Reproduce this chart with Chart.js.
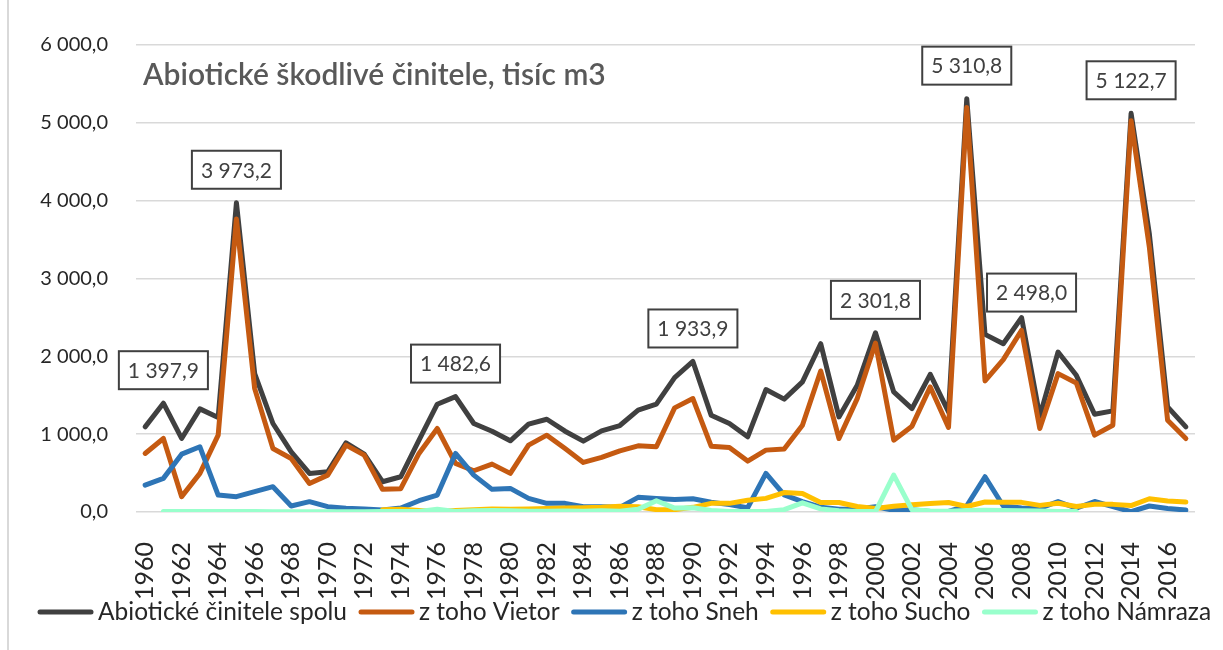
<!DOCTYPE html>
<html>
<head>
<meta charset="utf-8">
<script src="https://cdn.jsdelivr.net/npm/chart.js@4.4.1/dist/chart.umd.min.js"></script>
<style>
  html, body { margin: 0; padding: 0; background: #ffffff; }
  #wrap { width: 1223px; height: 650px; position: relative; }
</style>
</head>
<body>
<div id="wrap"><canvas id="c" width="1223" height="650"></canvas></div>
<script>
// ---- data ----
const years = [];
for (let y = 1960; y <= 2017; y++) years.push(String(y));

const seriesNames = ['Abiotické činitele spolu', 'z toho Vietor', 'z toho Sneh', 'z toho Sucho', 'z toho Námraza'];

const spolu = [1094, 1397.9, 945, 1325, 1214, 3973.2, 1778, 1137, 773, 496,
  517, 889, 743, 389, 453, 923, 1385, 1482.6, 1137, 1038,
  915, 1128, 1192, 1038, 910, 1043, 1111, 1308, 1385, 1726,
  1933.9, 1244, 1137, 966, 1573, 1450, 1671, 2162, 1222, 1628,
  2301.8, 1543, 1329, 1769, 1286, 5310.8, 2282, 2162, 2498.0, 1231,
  2055, 1756, 1256, 1299, 5122.7, 3573, 1350, 1094];

const vietor = [752, 945, 197, 496, 987, 3765, 1585, 816, 688, 367,
  474, 859, 731, 291, 300, 752, 1073, 624, 530, 615,
  496, 859, 987, 816, 637, 701, 786, 850, 838, 1338,
  1457, 846, 829, 654, 795, 810, 1115, 1812, 944, 1457,
  2171, 923, 1103, 1607, 1086, 5197, 1684, 1957, 2333, 1073,
  1778, 1658, 987, 1115, 5026, 3402, 1179, 944];

const sneh = [346, 432, 743, 838, 218, 197, 261, 325, 77, 133,
  68, 47, 40, 25, 50, 145, 218, 752, 474, 291,
  303, 175, 111, 111, 68, 68, 60, 188, 175, 160,
  170, 125, 95, 55, 496, 220, 133, 62, 36, 38,
  68, 22, 28, 8, 8, 80, 453, 77, 52, 47,
  135, 48, 135, 68, 5, 77, 45, 25];

const sucho = [null, null, null, null, null, null, null, null, null, null,
  null, null, null, 30, 35, 20, 5, 20, 30, 40,
  35, 40, 45, 50, 55, 60, 75, 68, 30, 30,
  60, 111, 111, 150, 175, 250, 238, 122, 122, 70,
  45, 75, 92, 108, 122, 70, 128, 126, 124, 85,
  112, 70, 100, 98, 82, 170, 140, 128];

const namraza = [null, 5, 5, 5, 5, 5, 5, 4, 4, 4,
  4, 4, 4, 5, 6, 8, 34, 8, 15, 20,
  15, 10, 10, 12, 10, 15, 10, 35, 145, 50,
  55, 20, 8, 5, 5, 30, 118, 40, 15, 5,
  5, 474, 28, 12, 10, 20, 22, 20, 15, 12,
  8, 5, null, null, null, null, null, null];

const yTicks = [0, 1000, 2000, 3000, 4000, 5000, 6000];
const labelledYears = ['1961', '1965', '1977', '1990', '2000', '2005', '2008', '2014'];
const chartTitle = 'Abiotické škodlivé činitele, tisíc m3';

// ---- helpers ----
function fmt(v) {
  const s = v.toFixed(1).split('.');
  const int = s[0].replace(/\B(?=(\d{3})+(?!\d))/g, ' ');
  return int + ',' + s[1];
}

const colors = ['#404040', '#C55A11', '#2E75B6', '#FFC000', '#99FFCC'];
const dataSets = [spolu, vietor, sneh, sucho, namraza];

const FONT = 'Lato, "Noto Sans", sans-serif';

const decorPlugin = {
  id: 'decor',
  beforeDraw(chart) {
    const ctx = chart.ctx;
    ctx.save();
    ctx.fillStyle = '#ffffff';
    ctx.fillRect(0, 0, chart.width, chart.height);
    ctx.strokeStyle = '#D9D9D9';
    ctx.lineWidth = 2;
    ctx.beginPath();
    ctx.moveTo(8, 0);
    ctx.lineTo(8, chart.height);
    ctx.stroke();
    ctx.restore();
  },
  afterDatasetsDraw(chart) {
    const ctx = chart.ctx;
    const area = chart.chartArea;
    ctx.save();
    // title inside plot
    ctx.font = '600 30px ' + FONT;
    ctx.fillStyle = '#595959';
    ctx.textBaseline = 'alphabetic';
    ctx.textAlign = 'left';
    ctx.fillText(chartTitle, area.left + 7, area.top + 40);

    // value labels
    const meta = chart.getDatasetMeta(0);
    ctx.font = '21px ' + FONT;
    labelledYears.forEach((yr) => {
      const idx = years.indexOf(yr);
      const pt = meta.data[idx];
      if (!pt) return;
      const txt = fmt(spolu[idx]);
      const w = ctx.measureText(txt).width + 18;
      const h = 38;
      let dx = 0, dy = -33;
      if (yr === '2008') { dx = 10; dy = -25; }
      const cx = pt.x + dx, cy = pt.y + dy;
      ctx.fillStyle = '#ffffff';
      ctx.fillRect(cx - w / 2, cy - h / 2, w, h);
      ctx.strokeStyle = '#404040';
      ctx.lineWidth = 2;
      ctx.strokeRect(cx - w / 2, cy - h / 2, w, h);
      ctx.fillStyle = '#404040';
      ctx.textAlign = 'center';
      ctx.textBaseline = 'middle';
      ctx.fillText(txt, cx, cy + 1);
    });

    // legend (custom spacing)
    const ly = chart.height - 38;
    let lx = 38;
    ctx.font = '24.5px ' + FONT;
    ctx.textAlign = 'left';
    ctx.textBaseline = 'middle';
    chart.data.datasets.forEach((ds) => {
      ctx.strokeStyle = ds.borderColor;
      ctx.lineWidth = 5;
      ctx.lineCap = 'round';
      ctx.beginPath();
      ctx.moveTo(lx + 2, ly);
      ctx.lineTo(lx + 53, ly);
      ctx.stroke();
      lx += 60;
      ctx.fillStyle = '#262626';
      ctx.fillText(ds.label, lx, ly);
      lx += ctx.measureText(ds.label).width + 12;
    });
    ctx.restore();
  }
};

const datasets = seriesNames.map((name, i) => ({
  label: name,
  data: dataSets[i],
  borderColor: colors[i],
  backgroundColor: colors[i],
  borderWidth: 5,
  pointRadius: 0,
  pointHoverRadius: 0,
  tension: 0,
  fill: false,
  spanGaps: false,
  order: 5 - i,
  borderJoinStyle: 'round',
  borderCapStyle: 'round'
}));

new Chart(document.getElementById('c'), {
  type: 'line',
  data: { labels: years, datasets },
  plugins: [decorPlugin],
  options: {
    responsive: false,
    animation: false,
    events: [],
    layout: { padding: { left: 28, right: 28, top: 45, bottom: 50 } },
    scales: {
      x: {
        offset: true,
        grid: { display: false, drawTicks: false },
        border: { display: false },
        ticks: {
          autoSkip: false,
          maxRotation: 90,
          minRotation: 90,
          padding: 30,
          color: '#262626',
          font: { family: FONT, size: 25 },
          callback: function (v, i) { return i % 2 === 0 ? years[i] : ''; }
        },
        afterFit(scale) {
          scale.height = 88;
          scale.paddingLeft = 0;
          scale.paddingRight = 0;
        }
      },
      y: {
        min: 0,
        max: 6000,
        afterBuildTicks(scale) { scale.ticks = yTicks.map(v => ({ value: v })); },
        grid: { color: '#D9D9D9', lineWidth: 1.5, drawTicks: false },
        border: { display: false },
        ticks: {
          padding: 28,
          color: '#262626',
          font: { family: FONT, size: 20 },
          callback: (v) => fmt(v)
        },
        afterFit(scale) {
          scale.width = 108;
          scale.paddingTop = 0;
          scale.paddingBottom = 0;
        }
      }
    },
    plugins: {
      title: { display: false },
      tooltip: { enabled: false },
      legend: { display: false }
    }
  }
});
</script>
</body>
</html>
